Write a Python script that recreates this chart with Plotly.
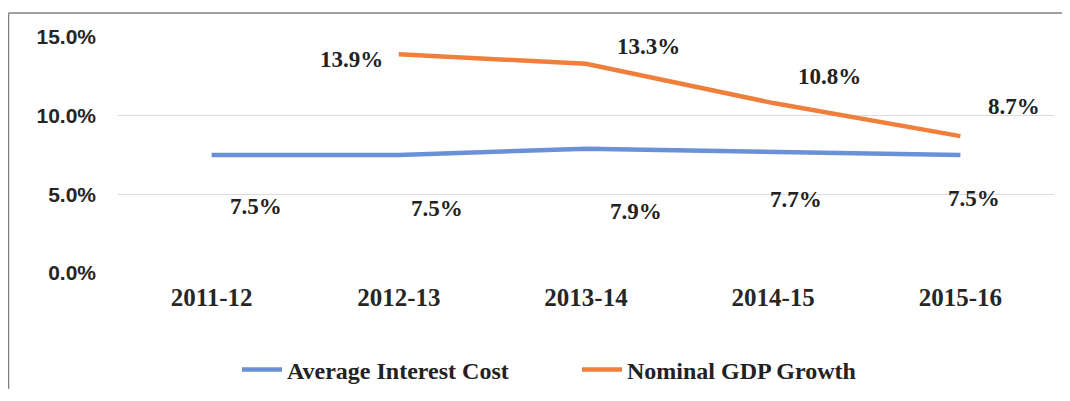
import plotly.graph_objects as go

categories = ["2011-12", "2012-13", "2013-14", "2014-15", "2015-16"]
avg_interest_cost = [7.5, 7.5, 7.9, 7.7, 7.5]
nominal_gdp_growth = [None, 13.9, 13.3, 10.8, 8.7]
y_ticks = [0, 5, 10, 15]
y_tick_labels = ["0.0%", "5.0%", "10.0%", "15.0%"]

# label offsets (pixels) relative to each point, as placed in the original chart
blue_label_dx = [44, 38, 50, 23, 14]
blue_label_dy = [-51, -53, -63, -48, -43]
orange_label_dx = [0, -47, 62, 56, 54]
orange_label_dy = [0, -5, 17, 27, 30]

BLUE = "#6A90D8"
ORANGE = "#EF7F3A"
SERIF = "Liberation Serif"
SANS = "Liberation Sans"

fig = go.Figure()
fig.add_trace(go.Scatter(
    x=categories, y=avg_interest_cost, mode="lines", name="Average Interest Cost",
    line=dict(color=BLUE, width=4.5), hoverinfo="skip"))
fig.add_trace(go.Scatter(
    x=categories, y=nominal_gdp_growth, mode="lines", name="Nominal GDP Growth",
    line=dict(color=ORANGE, width=4.5), hoverinfo="skip"))

label_font = dict(family=SERIF, size=23, color="#222222", weight="bold")
annotations = []
for i, c in enumerate(categories):
    v = avg_interest_cost[i]
    annotations.append(dict(x=c, y=v, xref="x", yref="y", text=f"{v:.1f}%",
                            showarrow=False, xshift=blue_label_dx[i], yshift=blue_label_dy[i],
                            font=label_font))
    g = nominal_gdp_growth[i]
    if g is not None:
        annotations.append(dict(x=c, y=g, xref="x", yref="y", text=f"{g:.1f}%",
                                showarrow=False, xshift=orange_label_dx[i], yshift=orange_label_dy[i],
                                font=label_font))

# page body has an 8px margin, so the figure is offset by 8px
OFF = 8
W, H = 1054, 381
L, R, T, B = 110, 8, 29, 116
pw, ph = W - L - R, H - T - B
def px_x(p):  # p in reference-image pixels
    return (p - OFF - L) / pw
def px_y(p):
    return (H - B - (p - OFF)) / ph

shapes = [
    dict(type="line", xref="paper", yref="paper", x0=px_x(8.5), x1=px_x(8.5),
         y0=px_y(13), y1=px_y(410), line=dict(color="#808080", width=1.5)),
    dict(type="line", xref="paper", yref="paper", x0=px_x(8.5), x1=px_x(1080),
         y0=px_y(13), y1=px_y(13), line=dict(color="#808080", width=1.5)),
]

fig.update_layout(
    width=W, height=H,
    margin=dict(l=L, r=R, t=T, b=B, autoexpand=False),
    paper_bgcolor="white", plot_bgcolor="white",
    showlegend=True,
    legend=dict(orientation="h", x=px_x(237), xanchor="left", y=px_y(370), yanchor="middle",
                font=dict(family=SERIF, size=24, color="#222222", weight="bold"),
                itemwidth=40, entrywidth=285, bgcolor="rgba(0,0,0,0)"),
    annotations=annotations,
    shapes=shapes,
)
fig.update_xaxes(
    type="category", range=[-0.5, 4.5], showgrid=False, zeroline=False, showline=False,
    ticks="", tickfont=dict(family=SERIF, size=25, color="#262626", weight="bold"),
    ticklabelstandoff=7, automargin=False,
)
fig.update_yaxes(
    range=[0, 15], tickmode="array", tickvals=y_ticks, ticktext=y_tick_labels,
    showgrid=True, gridcolor="#DCDCDC", gridwidth=1, zeroline=False, showline=False,
    ticks="", tickfont=dict(family=SANS, size=21, color="#262626", weight="bold"),
    ticklabelstandoff=21, automargin=False,
)

fig.write_html("out.html")
